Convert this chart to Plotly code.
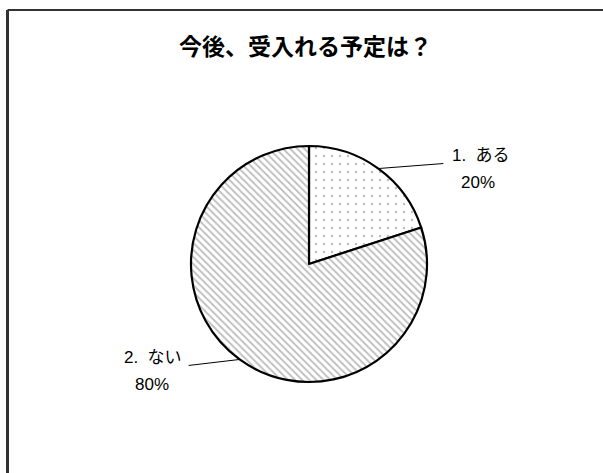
import math
import plotly.graph_objects as go

# Survey answers: "Do you plan to accept in the future?"
labels = ["1. ある", "2. ない"]
values = [20, 80]
patterns = [".", "\\"]

W, H = 603, 473
cx, cy, r = 309, 264, 118          # pie centre and radius in pixels
FONT = "Liberation Sans, Noto Sans CJK JP, sans-serif"

def px(x):
    return x / W

def py(y):
    return 1 - y / H

fig = go.Figure(go.Pie(
    labels=labels,
    values=values,
    sort=False,
    direction="clockwise",
    rotation=0,
    textinfo="none",
    hoverinfo="label+percent",
    showlegend=False,
    domain=dict(x=[px(cx - r), px(cx + r)], y=[py(cy + r), py(cy - r)]),
    marker=dict(
        colors=["white", "white"],
        line=dict(color="black", width=2.2),
        pattern=dict(
            shape=patterns,
            fgcolor="#bdbdbd",
            bgcolor="white",
            size=[8, 5],
            solidity=[0.07, 0.35],
        ),
    ),
))

shapes = []
annotations = []
total = sum(values)
start = 0.0
for lab, v in zip(labels, values):
    mid = (start + v / 2) / total * 2 * math.pi
    start += v
    ex = cx + r * math.sin(mid)
    ey = cy - r * math.cos(mid)
    right = math.sin(mid) > 0
    lx = ex + (65 if right else -51)
    ly = ey + (-5 if right else 6)
    shapes.append(dict(type="line", xref="paper", yref="paper",
                       x0=px(ex), y0=py(ey), x1=px(lx), y1=py(ly),
                       line=dict(color="black", width=1)))
    tx = lx + 38 if right else lx - 36
    pct = f"{round(v / total * 100)}%"
    annotations.append(dict(text=lab.replace(". ", ".&nbsp;&nbsp;"), x=px(tx), y=py(ly - 8),
                            xref="paper", yref="paper",
                            showarrow=False, xanchor="center", yanchor="middle",
                            font=dict(size=17, color="black")))
    annotations.append(dict(text=pct, x=px(tx - 3 if right else tx - 1), y=py(ly + 19),
                            xref="paper", yref="paper",
                            showarrow=False, xanchor="center", yanchor="middle",
                            font=dict(size=17, color="black")))

annotations.append(dict(text="<b>今後、受入れる予定は？</b>", x=px(305), y=py(45),
                        xref="paper", yref="paper", showarrow=False,
                        xanchor="center", yanchor="middle",
                        font=dict(size=23, color="black",
                                  family="Noto Sans CJK JP, sans-serif")))

# chart frame (only top and left edges fall inside the page)
shapes.append(dict(type="line", xref="paper", yref="paper",
                   x0=px(7.5), y0=py(10), x1=1.02, y1=py(10),
                   line=dict(color="#333333", width=2)))
shapes.append(dict(type="line", xref="paper", yref="paper",
                   x0=px(7.5), y0=py(10), x1=px(7.5), y1=-0.02,
                   line=dict(color="#333333", width=3)))

fig.update_layout(
    width=W, height=H,
    margin=dict(l=0, r=0, t=0, b=0),
    paper_bgcolor="white",
    plot_bgcolor="white",
    font=dict(family=FONT, color="black"),
    shapes=shapes,
    annotations=annotations,
)

fig.write_html("out.html")
